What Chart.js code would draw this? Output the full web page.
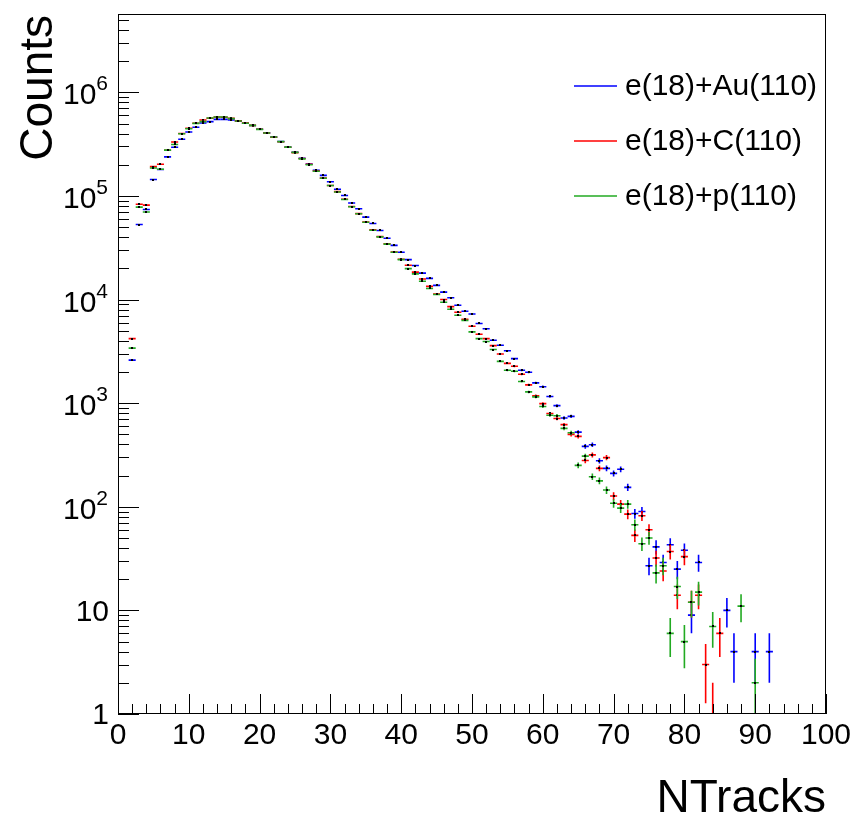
<!DOCTYPE html>
<html>
<head>
<meta charset="utf-8">
<script src="https://cdn.jsdelivr.net/npm/chart.js@4.4.0/dist/chart.umd.min.js"></script>
<style>
html, body { margin: 0; padding: 0; background: #fff; }
#canv { display: block; }
</style>
</head>
<body>
<canvas id="canv" width="858" height="819"></canvas>
<script>
// NTracks bins 2..92 (null = empty bin)
const nTracks = [];
for (let n = 2; n <= 92; n++) nTracks.push(n);

const countsAu = [
  2600, 53000, 74000, 144000, 180000, 238000, 295000, 352000, 414000, 460000,
  505000, 521000, 548000, 548000, 540000, 527000, 503000, 478000, 440000, 406000,
  370000, 335000, 297000, 264000, 231000, 203000, 177000, 158000, 137000, 116000,
  101000, 85500, 75200, 62400, 54200, 46400, 39100, 33300, 28600, 24300,
  21300, 18000, 16000, 13700, 11800, 10400, 8810, 7710, 7250, 5880,
  5230, 4050, 3620, 3210, 2690, 2080, 1990, 1570, 1440, 1160,
  946, 720, 746, 525, 383, 397, 278, 235, 210, 230,
  154, 86, 90, 27, 41, 29, 43, 25, 38, 9,
  29, null, null, null, 10, 4, null, null, 4, null, 4
];
const countsC = [
  4200, 83000, 81500, 192000, 202000, 276000, 331000, 400000, 450000, 503000,
  540000, 562000, 578000, 575000, 560000, 530000, 506000, 480000, 440000, 405000,
  368000, 333000, 295000, 262000, 230000, 202000, 174000, 149000, 126000, 110000,
  93000, 79000, 67500, 56000, 47000, 40500, 34500, 28800, 24500, 21400,
  18400, 15800, 13400, 11300, 10000, 8550, 7550, 6450, 5520, 4620,
  4200, 3590, 2980, 2420, 2270, 1900, 1500, 1180, 990, 795,
  710, 620, 500, 478, 280, 317, 235, 298, 127, 106,
  85, 53, 82, 60, 32, 24, 37, 14, 33, 12,
  14, 3, 1, 6, null, null, null, null, null, null, null
];
const countsP = [
  3400, 78000, 70000, 186000, 181000, 277000, 314000, 398000, 445000, 501000,
  521000, 565000, 578000, 578000, 557000, 528000, 503000, 480000, 439000, 405000,
  370000, 334000, 296000, 263000, 228000, 200000, 173000, 148000, 126000, 109000,
  92500, 78600, 67300, 55800, 46700, 40300, 34300, 28600, 24300, 19900,
  17700, 15000, 12800, 11200, 9420, 8060, 7060, 6300, 4870, 4200,
  3930, 3290, 2530, 2075, 2030, 1620, 1285, 1150, 930, 765,
  757, 571, 518, 251, 308, 195, 178, 145, 108, 97,
  106, 67, 44, 50, 23, 27, 6, 17, 5, 12,
  15, null, 7, null, null, null, 11, null, 2, null, null
];

const seriesNames = ['e(18)+Au(110)', 'e(18)+C(110)', 'e(18)+p(110)'];
const seriesColors = ['#0000ff', '#ff0000', '#22aa22'];

const xTickValues = [0, 10, 20, 30, 40, 50, 60, 70, 80, 90, 100];
const yDecades = [0, 1, 2, 3, 4, 5, 6];   // labels 1, 10, 10^2 ... 10^6

function toPoints(arr) {
  const pts = [];
  arr.forEach((v, i) => { if (v !== null && v > 0) pts.push({x: nTracks[i], y: v}); });
  return pts;
}

const rootFont = '"Liberation Sans", Arial, Helvetica, sans-serif';

const rootStyle = {
  id: 'rootStyle',
  beforeDraw(chart) {
    const ctx = chart.ctx;
    ctx.save();
    ctx.fillStyle = '#fff';
    ctx.fillRect(0, 0, chart.width, chart.height);
    ctx.restore();
  },
  afterDatasetsDraw(chart) {
    const {ctx, chartArea: a, scales: {x, y}} = chart;
    ctx.save();
    ctx.beginPath();
    ctx.rect(a.left, a.top, a.right - a.left, a.bottom - a.top);
    ctx.clip();
    chart.data.datasets.forEach(ds => {
      ds.data.forEach(p => {
        const cx = x.getPixelForValue(p.x);
        const cy = y.getPixelForValue(p.y);
        const x0 = x.getPixelForValue(p.x - 0.5);
        const x1 = x.getPixelForValue(p.x + 0.5);
        const e = Math.sqrt(p.y);
        const yHi = y.getPixelForValue(p.y + e);
        const yLo = (p.y - e) > 0.05 ? y.getPixelForValue(p.y - e) : a.bottom + 5;
        ctx.strokeStyle = ds.borderColor;
        ctx.lineWidth = 1.6;
        ctx.beginPath();
        ctx.moveTo(x0, cy); ctx.lineTo(x1, cy);
        ctx.moveTo(cx, yHi); ctx.lineTo(cx, yLo);
        ctx.stroke();
        ctx.fillStyle = '#000';
        ctx.fillRect(Math.round(cx) - 1, Math.round(cy) - 1, 2, 2);
      });
    });
    ctx.restore();
  },
  afterDraw(chart) {
    const {ctx, chartArea: a, scales: {x, y}} = chart;
    ctx.save();
    // frame
    ctx.strokeStyle = '#000';
    ctx.lineWidth = 1;
    ctx.strokeRect(a.left + 0.5, a.top + 0.5, a.right - a.left - 1, a.bottom - a.top - 1);

    // x ticks (inside, from the bottom)
    ctx.beginPath();
    for (let v = 0; v <= 100; v += 2) {
      const px = Math.round(x.getPixelForValue(v)) + 0.5;
      const len = (v % 10 === 0) ? 20 : 10;
      ctx.moveTo(px, a.bottom); ctx.lineTo(px, a.bottom - len);
    }
    // y ticks (inside, from the left)
    yDecades.forEach(d => {
      for (let m = 1; m <= 9; m++) {
        const v = m * Math.pow(10, d);
        if (v > y.max) break;
        const py = Math.round(y.getPixelForValue(v)) + 0.5;
        const len = m === 1 ? 21 : 11;
        ctx.moveTo(a.left, py); ctx.lineTo(a.left + len, py);
      }
    });
    ctx.stroke();

    // x tick labels
    ctx.fillStyle = '#000';
    ctx.font = '30px ' + rootFont;
    ctx.textAlign = 'center';
    ctx.textBaseline = 'top';
    xTickValues.forEach(v => {
      ctx.fillText(String(v), x.getPixelForValue(v), a.bottom + 7);
    });

    // y tick labels
    const rx = a.left - 10;
    yDecades.forEach(d => {
      const py = y.getPixelForValue(Math.pow(10, d));
      if (d < 2) {
        ctx.font = '30px ' + rootFont;
        ctx.textAlign = 'right';
        ctx.textBaseline = 'middle';
        ctx.fillText(d === 0 ? '1' : '10', rx + 1, py + 2);
      } else {
        ctx.font = '21px ' + rootFont;
        ctx.textAlign = 'right';
        ctx.textBaseline = 'alphabetic';
        const sup = String(d);
        ctx.fillText(sup, rx, py - 2);
        const sw = ctx.measureText(sup).width;
        ctx.font = '30px ' + rootFont;
        ctx.fillText('10', rx - sw, py + 12);
      }
    });

    // axis titles
    ctx.font = '46px ' + rootFont;
    ctx.textAlign = 'right';
    ctx.textBaseline = 'alphabetic';
    ctx.fillText('NTracks', a.right, 812);
    ctx.save();
    ctx.translate(52, a.top + 1);
    ctx.rotate(-Math.PI / 2);
    ctx.textAlign = 'right';
    ctx.fillText('Counts', 0, 0);
    ctx.restore();

    // legend
    ctx.font = '30px ' + rootFont;
    ctx.textAlign = 'left';
    ctx.textBaseline = 'middle';
    chart.data.datasets.forEach((ds, i) => {
      const ly = 86 + i * 55;
      ctx.strokeStyle = ds.borderColor;
      ctx.lineWidth = 1.5;
      ctx.beginPath();
      ctx.moveTo(574, ly); ctx.lineTo(617, ly);
      ctx.stroke();
      ctx.fillStyle = '#000';
      ctx.fillText(ds.label, 625, ly + 1);
    });
    ctx.restore();
  }
};

const config_chart = {
  type: 'scatter',
  data: {
    datasets: [
      {label: seriesNames[0], data: toPoints(countsAu), borderColor: seriesColors[0], backgroundColor: seriesColors[0]},
      {label: seriesNames[1], data: toPoints(countsC), borderColor: seriesColors[1], backgroundColor: seriesColors[1]},
      {label: seriesNames[2], data: toPoints(countsP), borderColor: seriesColors[2], backgroundColor: seriesColors[2]}
    ]
  },
  options: {
    responsive: false,
    animation: false,
    devicePixelRatio: 1,
    showLine: false,
    elements: { point: { radius: 0, hoverRadius: 0 } },
    layout: { padding: { left: 118, right: 32, top: 14, bottom: 105 } },
    scales: {
      x: { type: 'linear', min: 0, max: 100, display: false },
      y: { type: 'logarithmic', min: 1, max: 5.7e6, display: false }
    },
    plugins: { legend: { display: false }, tooltip: { enabled: false } }
  },
  plugins: [rootStyle]
};

new Chart(document.getElementById('canv'), config_chart);
</script>
</body>
</html>
